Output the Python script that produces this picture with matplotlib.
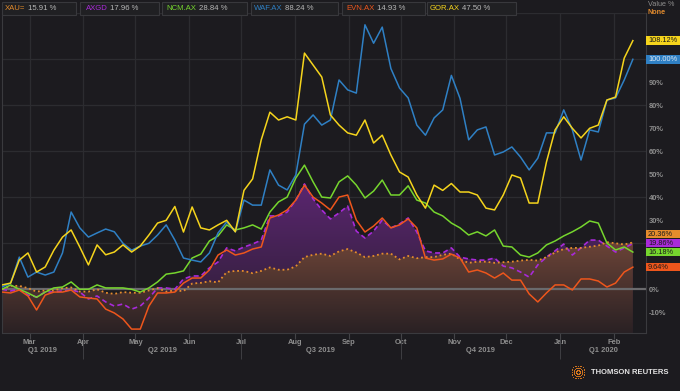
import numpy as np
import pandas as pd
import matplotlib
matplotlib.use("Agg")
import matplotlib.pyplot as plt
import matplotlib.dates as mdates
from matplotlib.colors import LinearSegmentedColormap
from matplotlib.patches import Rectangle

plt.rcParams['font.family'] = ['Liberation Sans', 'DejaVu Sans']

BG = '#1c1b1f'
GRID = '#2c2c30'
TXT = '#8e8e8e'

# series names, legend readouts and colours
tickers = ['XAU=', 'AXGD', 'NCM.AX', 'WAF.AX', 'EVN.AX', 'GOR.AX']
legend_vals = ['15.91 %', '17.96 %', '28.84 %', '88.24 %', '14.93 %', '47.50 %']
colors = ['#e58c2c', '#a82ad8', '#76d62e', '#2f80c4', '#ee561c', '#f5d41c']

dates = pd.date_range('2019-02-13', '2020-02-12', periods=74)

# % change
xau = [0, 1.5, 1.5, 0.5, -1, -0.5, -0.5, 0.5, 0.8, -1,
       -1, 0, -1.5, -2, -1.2, -1.5, -1.5, -0.5, 0.5, -1,
       -0.5, -0.8, 2.5, 2.8, 3.5, 3, 7.5, 8, 8, 7,
       8, 9.5, 8.5, 8.5, 10, 14, 15, 15.5, 14.5, 16.5,
       17.5, 16, 14, 14.5, 15.5, 15.5, 13, 14.5, 13.5, 14,
       14, 15, 15.5, 13, 11.5, 12, 12, 11.5, 11.8, 12,
       12.5, 12.8, 12.5, 14, 16, 17.5, 18, 18, 18.5, 19,
       20.5, 20, 19.5, 20.36]
axgd = [0, -0.7, 0, -2.5, -3.3, -1.2, -1.2, -0.7, -0.3, -1.2,
        -4.2, -2.9, -5.5, -7.3, -6.4, -8.6, -7.3, -3.8, 0.6, 0.6,
        0, 4.5, 5.8, 5.8, 9.3, 11.9, 18, 16.7, 18.4, 19.7,
        21.4, 31.9, 31.9, 33.6, 38.8, 45.8, 39.3, 34.5, 30.6, 33.2,
        36.2, 25.3, 22.3, 25.3, 30.1, 26.7, 28.4, 31, 24.9, 16.7,
        15.8, 15.8, 18, 14, 13.2, 12.7, 12.7, 13.6, 10.1, 9.3,
        7.5, 5.3, 10.6, 14, 16.7, 19.7, 14.9, 18, 21.4, 21.4,
        18.8, 16.2, 18, 19.86]
ncm = [0, 1.9, 0, -1.6, -3.5, -1.2, 0.6, 1, 3.2, 0,
       0, 1.9, 0.6, 0.6, 0.6, 0, -1.2, 0.6, 3.2, 6.6,
       7.1, 8, 13.6, 15.3, 21, 23.2, 28, 25.8, 26.7, 28,
       26.2, 33.6, 38, 40.1, 48.4, 54, 46.7, 40.1, 39.7, 46.7,
       49.3, 45.3, 39.7, 42.7, 47.5, 41, 41, 45, 38.8, 37.5,
       33.6, 31.9, 28.8, 26.7, 23.6, 25, 23.2, 25.8, 18.8, 18.4,
       14.9, 14, 15.8, 19.3, 21, 23.2, 25, 27.1, 29.7, 28.8,
       20.1, 17.1, 18.4, 16.18]
waf = [1, 2.7, 14, 5.3, 7.5, 6.2, 7.5, 15.8, 33.6, 26.7,
       22.7, 24.5, 26.2, 25, 20, 17, 18.8, 20, 23.6, 28,
       21.4, 13.6, 12.7, 11.9, 15.8, 24.5, 29.3, 25, 38.8, 36.6,
       36.6, 51.9, 45.3, 43.2, 49.7, 71.8, 75.8, 71.4, 73.6, 91,
       86.7, 85.3, 115, 107, 114, 96, 87.5, 83.2, 71.4, 67,
       74.5, 78, 93, 83, 65, 69.3, 70.6, 58.4, 59.7, 61.9,
       57.5, 51.9, 57, 68, 68, 78, 69.3, 56.2, 69.3, 68.4,
       82.3, 83.2, 91, 100.0]
evn = [-1.2, -1.6, -0.3, -2.9, -9, -2.5, -1.2, -1.2, -0.3, -3.3,
       -3.8, -4.2, -8.6, -10.3, -12.9, -17.3, -17.3, -7.3, -1.6, -1.6,
       -1.2, 2.7, 4.9, 4.9, 8.4, 14.9, 17.1, 14.9, 15.8, 17.5,
       18.4, 31, 32.3, 34.5, 38.8, 45.3, 40.1, 37.5, 34.5, 40.1,
       41, 30.1, 24.9, 27.5, 31, 26.7, 28, 30.6, 26.7, 13.6,
       12.7, 13.2, 15.3, 13.6, 7.5, 8.4, 7.1, 4.9, 7.1, 4,
       4, -2, -5.5, -1.6, 1.9, 1.9, -0.3, 4.5, 4.5, 3.6,
       1, 2.7, 7.5, 9.64]
gor = [1.9, 2.7, 12.7, 15.8, 7.5, 9.7, 17, 22.7, 25.8, 18.4,
       10.6, 19.3, 15, 16.2, 19.3, 16.2, 18.8, 23.6, 28.8, 30,
       36, 24.9, 35.8, 26.7, 25.8, 28, 30, 25, 43, 48,
       65, 77, 73.6, 75, 73.6, 102.7, 97.5, 92.3, 75.8, 71.4,
       68, 67, 73.6, 63.6, 67, 58.4, 51, 48.8, 41, 35.3,
       45.3, 43, 46, 42.3, 42.3, 41, 35.3, 34.5, 41, 49.7,
       48.4, 37.5, 37.5, 55.3, 69.3, 75, 70, 65.8, 70, 71.4,
       82.3, 83.6, 100.5, 108.12]

series = [xau, axgd, ncm, waf, evn, gor]

x = mdates.date2num(dates)
x0 = mdates.date2num(pd.Timestamp('2019-02-13'))
x1 = mdates.date2num(pd.Timestamp('2020-02-19 14:00'))
ymin, ymax = -19.0, 120

fig = plt.figure(figsize=(6.8, 3.91), dpi=100, facecolor=BG)
ax = fig.add_axes([2/680, 58/391, 644/680, (333-13.3)/391])
ax.set_facecolor(BG)

months = pd.date_range('2019-03-01', '2020-02-01', freq='MS')
qstarts = pd.to_datetime(['2019-04-01', '2019-07-01', '2019-10-01', '2020-01-01'])

# grid
for v in [20, 40, 60, 80, 100, 120]:
    ax.axhline(v, color=GRID, lw=0.9, zorder=0.5)
for m in mdates.date2num(months):
    ax.axvline(m, color=GRID, lw=0.9, zorder=0.5)


def gradient_fill(yvals, top, bottom, vtop, z):
    poly = ax.fill_between(x, yvals, ymin, color='none', lw=0)
    cmap = LinearSegmentedColormap.from_list('g', [bottom, top])
    img = ax.imshow(np.linspace(0, 1, 256).reshape(-1, 1), cmap=cmap, aspect='auto',
                    origin='lower', extent=[x0, x1, ymin, vtop], zorder=z,
                    interpolation='bilinear')
    img.set_clip_path(poly.get_paths()[0], ax.transData)


gradient_fill(axgd, '#5c2672', '#2a1e30', 48, 1)
gradient_fill(xau, '#6e4538', '#2a2124', 22, 1.5)

ax.axhline(0, color='#6a6a6d', lw=1.6, zorder=2)

ax.plot(x, axgd, color=colors[1], lw=1.2, ls=(0, (3, 2)), zorder=4)
ax.plot(x, xau, color=colors[0], lw=1.3, ls=(0, (1, 1.6)), zorder=4)
ax.plot(x, ncm, color=colors[2], lw=1.1, zorder=5)
ax.plot(x, evn, color=colors[4], lw=1.1, zorder=5)
ax.plot(x, waf, color=colors[3], lw=1.1, zorder=6)
ax.plot(x, gor, color=colors[5], lw=1.1, zorder=7)

ax.set_xlim(x0, x1)
ax.set_ylim(ymin, ymax)

for s in ['left', 'bottom', 'right']:
    ax.spines[s].set_color('#3a3a3e')
ax.spines['top'].set_visible(False)

ax.xaxis.remove_overlapping_locs = False
ax.set_xticks(mdates.date2num(months))
ax.set_xticklabels([m.strftime('%b') for m in months], fontweight='bold')
ax.set_xticks(mdates.date2num(qstarts), minor=True)
ax.tick_params(axis='x', which='major', length=4, color='#444448', labelcolor=TXT,
               labelsize=5.4, pad=0.4)
ax.tick_params(axis='x', which='minor', length=19, color='#444448')

# quarter labels centred on the visible part of each quarter
bounds = [x0] + list(mdates.date2num(qstarts)) + [x1]
qnames = ['Q1 2019', 'Q2 2019', 'Q3 2019', 'Q4 2019', 'Q1 2020']
for i, q in enumerate(qnames):
    ax.text((bounds[i] + bounds[i + 1]) / 2, -0.056, q, transform=ax.get_xaxis_transform(),
            ha='center', va='center', color=TXT, fontsize=5.4, fontweight='bold')

# right axis; the 10/20/100/110 labels sit behind the value tags
ax.yaxis.tick_right()
yt = [-10, 0, 30, 40, 50, 60, 70, 80, 90]
ax.set_yticks(yt)
ax.set_yticklabels([f'{v}%' for v in yt], fontweight='bold')
ax.tick_params(axis='y', length=0, pad=2.2, labelcolor=TXT, labelsize=5.4)

# overlay in pixel coordinates
ov = fig.add_axes([0, 0, 1, 1])
ov.set_xlim(0, 680)
ov.set_ylim(391, 0)
ov.axis('off')

box_x = [2, 80, 162, 251, 342, 427]
box_w = [74, 79, 85, 87, 83, 89]
name_x = [5, 86, 166, 254, 346, 430]
val_x = [28, 110, 199, 285, 377, 462]
for i in range(6):
    ov.add_patch(Rectangle((box_x[i], 2), box_w[i], 13, fc='#202023', ec='#38383c', lw=0.8))
    ov.text(name_x[i], 8.8, tickers[i], color=colors[i], fontsize=5.6, va='center')
    ov.text(val_x[i], 8.8, legend_vals[i], color='#b8b8b8', fontsize=5.6, va='center')

ov.text(648, 4.5, 'Value %', color=TXT, fontsize=5.2, va='center')
ov.text(648, 12.5, 'None', color='#e08a2e', fontsize=5.2, va='center', fontweight='bold')

# end-value tags on the right, overlapping tags are stacked upward
ends = []
for s, c in zip(series, colors):
    disp = ax.transData.transform((x[-1], s[-1]))
    py = ov.transData.inverted().transform(disp)[1]
    ends.append([py, s[-1], c])
ends.sort(key=lambda e: -e[0])
for k in range(1, len(ends)):
    if ends[k][0] > ends[k - 1][0] - 9:
        ends[k][0] = ends[k - 1][0] - 9
for py, v, c in ends:
    tc = '#dde8f4' if c == colors[3] else '#1a1a1a'
    ov.add_patch(Rectangle((646, py - 4.3), 34, 8.6, fc=c, ec='none', zorder=9))
    ov.text(648, py, f'{v:.2f}%', color=tc, fontsize=5.3, va='center', ha='left', zorder=10)

# logo
ang = np.linspace(0, 2 * np.pi, 24, endpoint=False)
for r in [2, 4.2, 6.4]:
    ov.scatter(578 + r * np.cos(ang), 372 + r * np.sin(ang), s=0.6, color='#e8801e', lw=0)
ov.text(591, 372, 'THOMSON REUTERS', color='#e4e4e4', fontsize=5.5, fontweight='bold', va='center')

fig.savefig('out.png', dpi=100, facecolor=BG)
